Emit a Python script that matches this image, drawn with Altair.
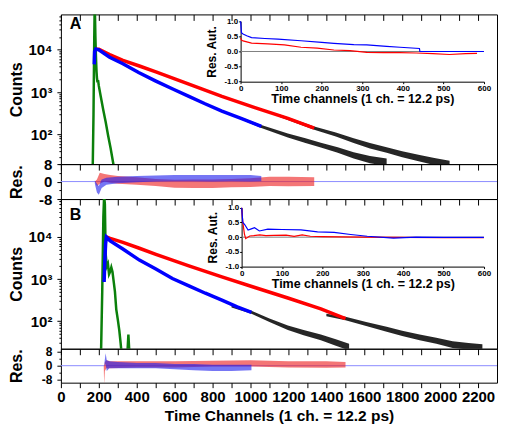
import altair as alt
import pandas as pd

FONT = "Liberation Sans"
RED = "#ff0000"
BLUE = "#0000ff"
GREEN = "#0b800b"
W = 437
H_MAIN_A, H_RES_A, H_MAIN_B, H_RES_B = 150, 35, 150, 34
X_MAX = 2300

panel_labels = ["A", "B"]
x_title = "Time Channels (1 ch. = 12.2 ps)"
inset_x_title = "Time channels (1 ch. = 12.2 ps)"
inset_y_title = "Res. Aut."
counts_title = "Counts"
res_title = "Res."

# ---------------- Panel A : decays ----------------
a_red_c = [184, 200, 257, 327, 414, 501, 675, 849, 1023, 1197, 1336]
a_red_v = [10300, 10200, 7670, 5600, 4120, 3000, 1550, 795, 430, 239, 142]
a_blue_c = [176, 178, 184, 200, 257, 327, 410, 501, 590, 675, 760, 849, 950, 1057]
a_blue_v = [4500, 9000, 10300, 9900, 6650, 4660, 2900, 1820, 1180, 795, 530, 357, 240, 155]
a_green_c = [160, 168, 172, 176, 178, 180, 182, 184, 186, 188, 190, 193, 196, 200, 210, 223, 236, 249, 262, 276, 285]
a_green_v = [12, 18, 300, 20000, 90000, 60000, 20000, 9000, 5000, 3000, 2200, 1700, 1900, 1400, 800, 390, 200, 95, 48, 21, 12]
a_data1_c = [1150, 1250, 1336, 1450, 1544, 1630, 1718, 1800, 1892, 1970, 2050]
a_data1_lo = [262, 180, 130, 89, 63, 47, 37, 29, 23, 19, 16]
a_data1_hi = [300, 212, 155, 112, 81, 63, 50, 40, 33, 28, 24]
a_data2_c = [950, 1057, 1197, 1290, 1371, 1460, 1544, 1630, 1718]
a_data2_lo = [226, 143, 85, 63, 49, 37, 27, 21, 18]
a_data2_hi = [255, 168, 106, 81, 64, 50, 38, 31, 27]

# ---------------- Panel A : residuals ----------------
a_rres_c = [179, 190, 205, 230, 260, 300, 400, 500, 600, 700, 800, 900, 1000, 1100, 1200, 1336]
a_rres_lo = [0, -2, -1, 0, -0.5, -1, -1.5, -2, -2.8, -3, -3, -2.6, -2.5, -2, -2.2, -2]
a_rres_hi = [0, 1, 4, 3.5, 3, 2.5, 2, 1.2, 0.8, 0.9, 1, 1.2, 1.5, 2.2, 2.2, 2]
a_bres_c = [179, 190, 200, 215, 240, 300, 400, 500, 600, 700, 800, 900, 1000, 1057]
a_bres_lo = [-1, -5, -6, -3, -1.5, -0.8, -0.3, 0, 0.2, 0.2, 0, 0.2, 0, 0.2]
a_bres_hi = [0.5, -1, -2, 1, 1.8, 2.2, 2.5, 2.8, 3, 3, 3, 3, 3, 2.5]

# ---------------- Panel A : inset (residual autocorrelation) ----------------
a_ired_c = [0, 2, 6, 27, 67, 108, 149, 189, 230, 270, 311, 352, 393, 433, 474, 515, 555, 583]
a_ired_v = [0.45, 0.38, 0.35, 0.28, 0.25, 0.22, 0.14, 0.11, 0.05, 0.03, -0.03, -0.04, -0.04, -0.05, -0.07, -0.1, -0.07, -0.06]
a_iblue_c = [0, 2, 6, 15, 27, 60, 92, 149, 200, 230, 279, 311, 360, 393, 441, 442, 600]
a_iblue_v = [1.0, 0.62, 0.58, 0.52, 0.46, 0.43, 0.41, 0.355, 0.3, 0.27, 0.23, 0.22, 0.17, 0.14, 0.1, 0.0, 0.0]

# ---------------- Panel B : decays ----------------
b_red_c = [240, 260, 327, 414, 501, 675, 849, 1023, 1197, 1371, 1501]
b_red_v = [10000, 9300, 7440, 5400, 3870, 2050, 1130, 630, 354, 195, 115]
b_blue_c = [228, 232, 236, 240, 260, 327, 414, 501, 588, 675, 762, 849, 930, 1005]
b_blue_v = [850, 3000, 7000, 10000, 8100, 5200, 2820, 1730, 1030, 690, 460, 315, 218, 162]
b_green_c = [205, 212, 218, 224, 228, 232, 236, 242, 248, 254, 260, 266, 272, 278, 285, 292, 300, 308, 315, 322, 345, 352, 356, 360, 368]
b_green_v = [12, 20, 500, 30000, 95000, 60000, 4000, 2000, 2300, 1300, 1500, 1900, 1500, 900, 500, 190, 110, 60, 30, 14, 14, 22, 48, 22, 12]
b_data1_c = [1400, 1501, 1610, 1718, 1800, 1892, 1980, 2066, 2150, 2223]
b_data1_lo = [131, 105, 76, 56, 44, 35, 29, 23, 21, 19]
b_data1_hi = [150, 126, 95, 73, 59, 48, 40, 33, 30, 28]
b_data2_c = [900, 1005, 1100, 1197, 1280, 1371, 1450, 1520]
b_data2_lo = [211, 150, 95, 61, 46, 35, 26, 20]
b_data2_hi = [240, 175, 116, 78, 61, 48, 37, 29]

# ---------------- Panel B : residuals ----------------
b_rres_c = [226, 228, 232, 240, 260, 400, 600, 800, 1000, 1200, 1400, 1501]
b_rres_lo = [0, -10.5, -3, -1.5, -1.5, -1, -1, -0.5, -0.5, -1, -1.2, -1]
b_rres_hi = [0, 0, 2, 3, 2.5, 2.5, 2.5, 2.8, 3, 2.5, 2.5, 2]
b_bres_c = [230, 236, 242, 255, 300, 400, 500, 600, 700, 800, 900, 1005]
b_bres_lo = [0, 1, -3, -1.5, -1.5, -1.5, -1.5, -2, -2.5, -3, -3, -2.5]
b_bres_hi = [2, 7, 3, 2.5, 2, 1.5, 1.5, 1, 1, 0.5, 0.5, 0.5]

# ---------------- Panel B : inset ----------------
b_ired_c = [0, 3, 7, 10, 20, 30, 45, 60, 80, 110, 130, 150, 170, 200, 250, 300, 400, 500, 600]
b_ired_v = [1.0, 0.5, 0.1, -0.05, 0.04, 0.05, 0.08, 0.05, 0.06, 0.07, 0.03, 0.08, 0.03, 0.02, 0.01, 0.0, -0.01, -0.02, -0.02]
b_iblue_c = [0, 3, 8, 16, 24, 32, 44, 65, 100, 147, 188, 229, 270, 311, 376, 432, 500, 600]
b_iblue_v = [1.0, 0.5, 0.42, 0.24, 0.28, 0.32, 0.21, 0.27, 0.26, 0.25, 0.18, 0.16, 0.09, 0.03, -0.03, 0.0, -0.01, -0.01]

# ---------------- helpers ----------------
X_TICKS = list(range(0, X_MAX, 100))
LOG_TICKS = [m * 10 ** e for e in (1, 2, 3, 4) for m in range(1, 10) if 20 <= m * 10 ** e <= 90000]


def xscale():
    return alt.Scale(domain=[0, X_MAX], nice=False, zero=False)


def tick_axis():
    return alt.Axis(values=X_TICKS, labels=False, title=None, tickSize=6, domain=False, grid=False)


def bottom_axis():
    return alt.Axis(values=X_TICKS, format="d",
                    labelExpr="datum.value % 200 == 0 ? datum.label : ''",
                    labelFontSize=15, title=x_title, titleFontSize=15.5,
                    tickSize=5, labelPadding=2, titlePadding=4,
                    labelFlush=False, labelOverlap=False, domain=False, grid=False)


def y_common(label_size=15):
    return dict(minExtent=32, maxExtent=32, titlePadding=4, labelFontSize=label_size,
                titleFontSize=16, labelPadding=5, grid=False, domain=False,
                labelOverlap=False)


def line(c, v, color, width, xax, ys, yax):
    d = pd.DataFrame({"c": c, "v": v})
    return alt.Chart(d).mark_line(color=color, strokeWidth=width, clip=True).encode(
        x=alt.X("c:Q", scale=xscale(), axis=xax),
        y=alt.Y("v:Q", scale=ys, axis=yax))


def band(c, lo, hi, color, opacity, xax, ys, yax):
    d = pd.DataFrame({"c": c, "lo": lo, "hi": hi})
    return alt.Chart(d).mark_area(color=color, opacity=opacity, clip=True).encode(
        x=alt.X("c:Q", scale=xscale(), axis=xax),
        y=alt.Y("lo:Q", scale=ys, axis=yax), y2="hi:Q")


def inset(h, xr, yr, red_c, red_v, blue_c, blue_v):
    xs = alt.Scale(domain=[0, 600], range=xr, nice=False, zero=False)
    ys = alt.Scale(domain=[-1, 1], range=yr, nice=False, zero=False)
    xax = alt.Axis(orient="bottom", offset=yr[0] - h, values=list(range(0, 601, 100)),
                   format="d", labelFontSize=8, tickSize=2, labelPadding=1,
                   title=inset_x_title, titleFontSize=12.5, titlePadding=0,
                   labelFlush=False, labelOverlap=False, grid=False)
    yax = alt.Axis(orient="left", offset=-xr[0], values=[-1, -0.5, 0, 0.5, 1],
                   labelExpr="datum.value < 0 ? '-' + format(-datum.value, '.1f') : format(datum.value, '.1f')",
                   labelFontSize=8, tickSize=2, labelPadding=1, title=inset_y_title,
                   titleFontSize=12, titlePadding=5, grid=False, labelOverlap=False)
    zero = alt.Chart(pd.DataFrame({"c0": [0], "c1": [600], "v": [0]})).mark_rule(
        color="#808080", strokeWidth=1).encode(
        x=alt.X("c0:Q", scale=xs, axis=xax), x2="c1:Q",
        y=alt.Y("v:Q", scale=ys, axis=yax))
    r = alt.Chart(pd.DataFrame({"c": red_c, "v": red_v})).mark_line(
        color=RED, strokeWidth=1.2).encode(
        x=alt.X("c:Q", scale=xs, axis=xax), y=alt.Y("v:Q", scale=ys, axis=yax))
    b = alt.Chart(pd.DataFrame({"c": blue_c, "v": blue_v})).mark_line(
        color=BLUE, strokeWidth=1.2).encode(
        x=alt.X("c:Q", scale=xs, axis=xax), y=alt.Y("v:Q", scale=ys, axis=yax))
    return alt.layer(zero, r, b)


def main_panel(label, label_y, h, ydom, bands, green, red, blue, ins, top=False):
    xax = tick_axis()
    ys = alt.Scale(type="log", domain=ydom, nice=False)
    yax = alt.Axis(values=LOG_TICKS,
                   labelExpr="datum.value == 100 ? '10²' : datum.value == 1000 ? '10³' : datum.value == 10000 ? '10⁴' : ''",
                   tickSize={"condition": {"test": "datum.value == 100 || datum.value == 1000 || datum.value == 10000", "value": 4}, "value": 2},
                   title=counts_title, **y_common())
    layers = [band(c, lo, hi, "black", 0.85, xax, ys, yax) for (c, lo, hi) in bands]
    layers.append(line(green[0], green[1], GREEN, 2.5, xax, ys, yax))
    layers.append(line(red[0], red[1], RED, 3.5, xax, ys, yax))
    layers.append(line(blue[0], blue[1], BLUE, 3.5, xax, ys, yax))
    layers.append(alt.Chart(pd.DataFrame({"label": [label]})).mark_text(
        font=FONT, fontWeight="bold", fontSize=16, align="left", baseline="middle",
        color="black").encode(x=alt.value(9), y=alt.value(label_y), text="label:N"))
    main = alt.layer(*layers)
    parts = [main, ins]
    if top:
        topax = alt.Axis(orient="top", offset=-6, values=X_TICKS, labels=False, title=None,
                         tickSize=6, domain=False, grid=False)
        parts.append(alt.Chart(pd.DataFrame({"c": [0]})).mark_point(opacity=0).encode(
            x=alt.X("c:Q", scale=xscale(), axis=topax)))
    return alt.layer(*parts).resolve_scale(x="independent", y="independent").properties(width=W, height=h)


def res_panel(h, ydom, rres, bres, bottom=False, label_size=15):
    xax = bottom_axis() if bottom else tick_axis()
    ys = alt.Scale(domain=ydom, nice=False, zero=False)
    yax = alt.Axis(values=[-8, -4, 0, 4, 8],
                   labelExpr="datum.value == 8 ? '8' : datum.value == 0 ? '0' : datum.value == -8 ? '-8' : ''",
                   tickSize={"condition": {"test": "datum.value % 8 == 0", "value": 4}, "value": 2},
                   title=res_title, **y_common(label_size))
    zero = alt.Chart(pd.DataFrame({"v": [0]})).mark_rule(color="#8c8cff", strokeWidth=1).encode(
        y=alt.Y("v:Q", scale=ys, axis=yax))
    r = band(rres[0], rres[1], rres[2], "#ee2222", 0.62, xax, ys, yax)
    b = band(bres[0], bres[1], bres[2], "#2222ee", 0.62, xax, ys, yax)
    return alt.layer(zero, r, b).properties(width=W, height=h)


ins_a = inset(H_MAIN_A, [180.1, 423.9], [67.4, 6.9], a_ired_c, a_ired_v, a_iblue_c, a_iblue_v)
ins_b = inset(H_MAIN_B, [181.1, 423.9], [67.7, 8.7], b_ired_c, b_ired_v, b_iblue_c, b_iblue_v)

main_a = main_panel(panel_labels[0], 9.3, H_MAIN_A, [20, 68000],
                    [(a_data1_c, a_data1_lo, a_data1_hi), (a_data2_c, a_data2_lo, a_data2_hi)],
                    (a_green_c, a_green_v), (a_red_c, a_red_v), (a_blue_c, a_blue_v), ins_a, top=True)
res_a = res_panel(H_RES_A, [-8, 8], (a_rres_c, a_rres_lo, a_rres_hi), (a_bres_c, a_bres_lo, a_bres_hi))
main_b = main_panel(panel_labels[1], 15.7, H_MAIN_B, [22, 80000],
                    [(b_data1_c, b_data1_lo, b_data1_hi), (b_data2_c, b_data2_lo, b_data2_hi)],
                    (b_green_c, b_green_v), (b_red_c, b_red_v), (b_blue_c, b_blue_v), ins_b)
res_b = res_panel(H_RES_B, [-9.5, 9.5], (b_rres_c, b_rres_lo, b_rres_hi), (b_bres_c, b_bres_lo, b_bres_hi),
                  bottom=True, label_size=12)

chart = alt.vconcat(main_a, res_a, main_b, res_b, spacing=0, bounds="flush",
                    padding={"left": 0, "top": 0, "right": 0, "bottom": 0}).configure_view(
    stroke="black", strokeWidth=1).configure_axis(
    labelFont=FONT, titleFont=FONT, labelFontWeight="bold", titleFontWeight="bold",
    labelColor="black", titleColor="black", tickColor="black", domainColor="black",
    tickWidth=1, domainWidth=1)

chart.save("out.html", embed_options={"renderer": "svg", "actions": False})
